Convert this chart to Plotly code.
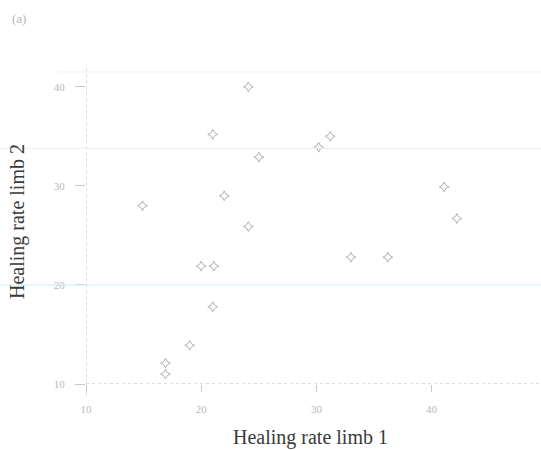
import plotly.graph_objects as go

# Data
limb1 = [14.9, 16.9, 16.9, 19.0, 20.0, 21.1, 21.0, 21.0, 22.0, 24.1, 24.1, 25.0,
         30.2, 31.2, 33.0, 36.2, 41.1, 42.2]
limb2 = [28.0, 12.1, 11.0, 13.9, 21.9, 21.9, 17.8, 35.2, 29.0, 40.0, 25.9, 32.9,
         33.9, 35.0, 22.8, 22.8, 29.9, 26.7]
tick_vals = [10, 20, 30, 40]
tick_text = ["10", "20", "30", "40"]

serif = "Liberation Serif"

fig = go.Figure()
fig.add_trace(go.Scatter(
    x=limb1, y=limb2, mode="markers",
    marker=dict(symbol="star-diamond-open", size=7, color="#b0b0b0",
                line=dict(width=1, color="#b0b0b0")),
    showlegend=False, hoverinfo="x+y"))

X0, X1 = 10, 49.5
Y0, Y1 = 10, 42

shapes = [
    # faint scan lines
    dict(type="line", xref="paper", yref="y", x0=-0.06, x1=1, y0=41.5, y1=41.5,
         line=dict(color="#f0f0f0", width=1)),
    dict(type="line", xref="paper", yref="y", x0=-0.19, x1=1, y0=33.8, y1=33.8,
         line=dict(color="#ececec", width=1)),
    dict(type="line", xref="paper", yref="y", x0=-0.19, x1=1, y0=20, y1=20,
         line=dict(color="#c6eef5", width=1)),
    # dotted axes
    dict(type="line", xref="x", yref="y", x0=X0, x1=X1, y0=Y0, y1=Y0,
         line=dict(color="#bdbdbd", width=1, dash="dot")),
    dict(type="line", xref="x", yref="paper", x0=X0, x1=X0, y0=-0.035, y1=1,
         line=dict(color="#bdbdbd", width=1, dash="dot")),
]

fig.update_layout(
    width=541, height=450,
    margin=dict(l=86, r=0, t=67, b=66, autoexpand=False),
    paper_bgcolor="white", plot_bgcolor="white",
    font=dict(family=serif, color="#b5b5b5", size=10),
    shapes=shapes,
    xaxis=dict(range=[X0, X1], tickmode="array", tickvals=tick_vals, ticktext=tick_text,
               showgrid=False, zeroline=False, showline=False, automargin=False,
               ticks="outside", ticklen=7, tickcolor="#c8c8c8", ticklabelstandoff=8,
               tickfont=dict(family=serif, size=11, color="#b8b8b8")),
    yaxis=dict(range=[Y0, Y1], tickmode="array", tickvals=tick_vals, ticktext=tick_text,
               showgrid=False, zeroline=False, showline=False, automargin=False,
               ticks="outside", ticklen=10, tickcolor="#c8c8c8", ticklabelstandoff=8,
               tickfont=dict(family=serif, size=11, color="#b8b8b8")),
    annotations=[
        dict(text="(a)", xref="paper", yref="paper", x=(10 - 86) / 455, y=(384 - 18) / 317,
             xanchor="left", yanchor="middle", showarrow=False,
             font=dict(family=serif, size=13, color="#b8b8b8")),
        dict(text="Healing rate limb 1", xref="paper", yref="paper",
             x=(310 - 86) / 455, y=(384 - 437) / 317,
             xanchor="center", yanchor="middle", showarrow=False,
             font=dict(family=serif, size=20, color="#3a3a3a")),
        dict(text="Healing rate limb 2", xref="paper", yref="paper",
             x=(17 - 86) / 455, y=(384 - 222) / 317, textangle=-90,
             xanchor="center", yanchor="middle", showarrow=False,
             font=dict(family=serif, size=20, color="#3a3a3a")),
    ],
)

fig.write_html("out.html", config={"displayModeBar": False},
               post_script="document.body.style.margin='0';document.body.style.overflow='hidden';")
